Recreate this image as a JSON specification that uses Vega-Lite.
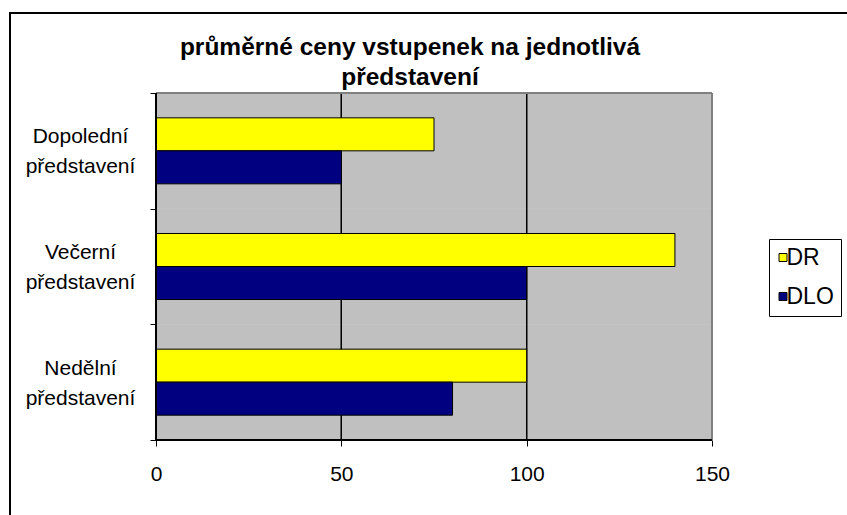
{
  "$schema": "https://vega.github.io/schema/vega-lite/v6.json",
  "autosize": {"type": "none"},
  "padding": {"left": 10, "top": 13, "right": -3, "bottom": -3},
  "width": 840,
  "height": 505,
  "background": "white",
  "title": {
    "text": ["průměrné ceny vstupenek na jednotlivá", "představení"],
    "font": "Liberation Sans",
    "fontSize": 24.5,
    "fontWeight": "bold",
    "lineHeight": 30,
    "color": "black",
    "anchor": "middle",
    "frame": "group",
    "dx": -20,
    "offset": -88
  },
  "data": {
    "values": [
      {"predstaveni": "Dopolední představení", "skupina": "DR", "cena": 75},
      {"predstaveni": "Dopolední představení", "skupina": "DLO", "cena": 50},
      {"predstaveni": "Večerní představení", "skupina": "DR", "cena": 140},
      {"predstaveni": "Večerní představení", "skupina": "DLO", "cena": 100},
      {"predstaveni": "Nedělní představení", "skupina": "DR", "cena": 100},
      {"predstaveni": "Nedělní představení", "skupina": "DLO", "cena": 80}
    ]
  },
  "layer": [
    {
      "mark": {"type": "rect", "fill": "#C0C0C0"},
      "encoding": {
        "y": {"field": "predstaveni", "type": "nominal", "title": null, "sort": ["Dopolední představení", "Večerní představení", "Nedělní představení"]},
        "x": {"datum": 0, "type": "quantitative", "title": null},
        "x2": {"datum": 150}
      }
    },
    {
      "mark": {"type": "rect", "fill": null, "stroke": "black", "strokeWidth": 1},
      "encoding": {
        "y": {"field": "predstaveni", "type": "nominal", "title": null, "sort": ["Dopolední představení", "Večerní představení", "Nedělní představení"]},
        "x": {"datum": 50, "type": "quantitative", "title": null},
        "x2": {"datum": 50}
      }
    },
    {
      "mark": {"type": "rect", "fill": null, "stroke": "black", "strokeWidth": 1},
      "encoding": {
        "y": {"field": "predstaveni", "type": "nominal", "title": null, "sort": ["Dopolední představení", "Večerní představení", "Nedělní představení"]},
        "x": {"datum": 100, "type": "quantitative", "title": null},
        "x2": {"datum": 100}
      }
    },
    {
      "mark": {"type": "rect", "fill": null, "stroke": "#808080", "strokeWidth": 2},
      "encoding": {
        "y": {"field": "predstaveni", "type": "nominal", "title": null, "sort": ["Dopolední představení", "Večerní představení", "Nedělní představení"]},
        "x": {"datum": 150, "type": "quantitative", "title": null},
        "x2": {"datum": 150}
      }
    },
    {
      "transform": [{"filter": "datum.skupina == 'DR' && indexof(datum.predstaveni, 'Dopoled') == 0"}],
      "mark": {"type": "rule", "stroke": "#808080", "strokeWidth": 2},
      "encoding": {
        "y": {"field": "predstaveni", "type": "nominal", "title": null, "bandPosition": 0, "sort": ["Dopolední představení", "Večerní představení", "Nedělní představení"]},
        "x": {"datum": 0, "type": "quantitative", "title": null},
        "x2": {"datum": 150}
      }
    },
    {
      "mark": {"type": "bar", "stroke": "black", "strokeWidth": 1},
      "encoding": {
        "y": {
          "field": "predstaveni",
          "type": "nominal",
          "title": null,
          "sort": ["Dopolední představení", "Večerní představení", "Nedělní představení"],
          "scale": {"range": [80, 427], "paddingInner": 0, "paddingOuter": 0}
        },
        "x": {
          "field": "cena",
          "type": "quantitative",
          "title": null,
          "scale": {"domain": [0, 150], "range": [146, 702], "nice": false, "zero": true},
          "axis": {"values": [0, 50, 100, 150]}
        },
        "yOffset": {
          "field": "skupina",
          "type": "nominal",
          "sort": ["DR", "DLO"],
          "scale": {"paddingInner": 0, "paddingOuter": 0.7525}
        },
        "color": {
          "field": "skupina",
          "type": "nominal",
          "title": null,
          "sort": ["DR", "DLO"],
          "scale": {"domain": ["DR", "DLO"], "range": ["#FFFF00", "#000080"]},
          "legend": {
            "orient": "none",
            "legendX": 759,
            "legendY": 226,
            "padding": 7,
            "strokeColor": "black",
            "fillColor": "white",
            "symbolType": "square",
            "symbolSize": 64,
            "symbolStrokeColor": "black",
            "symbolStrokeWidth": 1,
            "symbolOpacity": 1,
            "symbolOffset": -4.5,
            "labelFont": "Liberation Sans",
            "labelFontSize": 23,
            "labelColor": "black",
            "labelOffset": -8,
            "rowPadding": 15
          }
        }
      }
    },
    {
      "mark": {"type": "rect", "fill": null, "stroke": "black", "strokeWidth": 2},
      "encoding": {
        "y": {"field": "predstaveni", "type": "nominal", "title": null, "sort": ["Dopolední představení", "Večerní představení", "Nedělní představení"]},
        "x": {"datum": 0, "type": "quantitative", "title": null},
        "x2": {"datum": 0}
      }
    },
    {
      "transform": [{"filter": "datum.skupina == 'DLO' && indexof(datum.predstaveni, 'Neděl') == 0"}],
      "mark": {"type": "rule", "stroke": "black", "strokeWidth": 2},
      "encoding": {
        "y": {"field": "predstaveni", "type": "nominal", "title": null, "bandPosition": 1, "sort": ["Dopolední představení", "Večerní představení", "Nedělní představení"]},
        "x": {"datum": 0, "type": "quantitative", "title": null},
        "x2": {"datum": 150}
      }
    }
  ],
  "config": {
    "view": {"stroke": "black", "strokeWidth": 2, "fill": "white"},
    "axisX": {
      "orient": "bottom",
      "offset": -78,
      "zindex": 2,
      "domain": false,
      "tickColor": "black",
      "tickSize": 6,
      "tickWidth": 1,
      "grid": false,
      "labelFont": "Liberation Sans",
      "labelFontSize": 21,
      "labelColor": "black",
      "labelPadding": 17,
      "labelFlush": false,
      "labelOverlap": false
    },
    "axisY": {
      "offset": -146,
      "zindex": 2,
      "domain": false,
      "tickColor": "black",
      "tickSize": 6,
      "tickWidth": 1,
      "tickBand": "extent",
      "grid": false,
      "labelExpr": "split(datum.label, ' ')",
      "labelFont": "Liberation Sans",
      "labelFontSize": 21,
      "labelColor": "black",
      "labelAlign": "center",
      "labelBaseline": "middle",
      "labelLineHeight": 30,
      "labelPadding": 70,
      "labelOffset": -14,
      "labelLimit": 0,
      "labelOverlap": false
    }
  }
}
